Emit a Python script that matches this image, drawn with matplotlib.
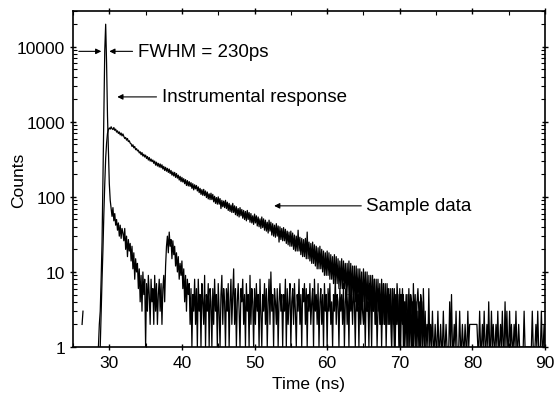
import numpy as np
import matplotlib
matplotlib.use("Agg")
import matplotlib.pyplot as plt
from matplotlib.ticker import FixedLocator, NullFormatter, LogLocator

plt.rcParams['font.family'] = ['Liberation Sans', 'DejaVu Sans']

nan = np.nan
BIN = 0.125  # ns per channel

# Instrument response (counts), one row per ns, 8 channels per row, starting 26.0 ns
irf_start = 26.0
irf_rows = [
    [nan, nan, 2, 3, nan, nan, nan, nan],                # 26
    [nan, nan, nan, nan, nan, nan, nan, nan],            # 27
    [nan, nan, nan, nan, 1, 2, 3, 8],                    # 28
    [25, 180, 1500, 9000, 20000, 6000, 1200, 400],       # 29
    [150, 90, 70, 55, 72, 48, 60, 42],                   # 30
    [50, 36, 45, 30, 42, 28, 38, 33],                    # 31
    [26, 38, 20, 30, 16, 27, 19, 24],                    # 32
    [14, 22, 11, 18, 8, 15, 10, 13],                     # 33
    [6, 11, 4, 9, 3, 10, 5, 8],                          # 34
    [1, 7, 3, 9, 5, 2, 8, 4],                            # 35
    [6, 2, 9, 3, 7, 2, 5, 8],                            # 36
    [3, 7, 2, 6, 9, 4, 12, 22],                          # 37
    [30, 18, 34, 22, 27, 15, 26, 17],                    # 38
    [22, 12, 18, 10, 16, 8, 13, 9],                      # 39
    [14, 6, 11, 4, 9, 3, 8, 5],                          # 40
    [7, 2, 6, 1, 5, 3, 8, 2],                            # 41
    [6, 1, 8, 3, 5, 1, 7, 4],                            # 42
    [2, 9, 1, 5, 3, 7, 1, 6],                            # 43
    [4, 1, 6, 2, 8, 3, 5, 1],                            # 44
    [7, 3, 1, 5, 9, 2, 6, 4],                            # 45
    [1, 6, 3, 7, 1, 4, 8, 2],                            # 46
    [5, 11, 2, 6, 1, 4, 7, 3],                           # 47
    [1, 6, 4, 8, 2, 5, 1, 7],                            # 48
    [3, 5, 1, 9, 2, 6, 4, 1],                            # 49
    [6, 2, 7, 3, 5, 1, 8, 3],                            # 50
    [1, 5, 3, 7, 2, 6, 1, 4],                            # 51
    [8, 2, 10, 3, 5, 1, 6, 4],                           # 52
    [2, 6, 1, 4, 7, 3, 5, 1],                            # 53
    [5, 3, 8, 1, 6, 2, 4, 7],                            # 54
    [1, 4, 6, 2, 7, 3, 1, 5],                            # 55
    [3, 8, 2, 5, 1, 6, 4, 7],                            # 56
    [2, 6, 1, 5, 3, 7, 2, 4],                            # 57
    [6, 1, 8, 3, 5, 2, 7, 1],                            # 58
    [4, 6, 2, 5, 1, 7, 3, 5],                            # 59
    [1, 6, 3, 7, 2, 4, 1, 5],                            # 60
    [3, 8, 2, 5, 4, 1, 6, 3],                            # 61
    [5, 2, 7, 1, 4, 6, 2, 5],                            # 62
    [1, 9, 3, 5, 2, 6, 4, 1],                            # 63
    [6, 3, 5, 1, 7, 2, 5, 3],                            # 64
    [2, 5, 1, 6, 3, 4, 1, 7],                            # 65
    [4, 1, 6, 3, 8, 2, 5, 1],                            # 66
    [3, 6, 2, 5, 1, 4, 7, 2],                            # 67
    [5, 1, 4, 6, 2, 5, 3, 1],                            # 68
    [6, 3, 1, 5, 2, 7, 4, 2],                            # 69
    [1, 5, 3, 6, 1, 4, 2, 5],                            # 70
    [3, 1, 6, 2, 5, 4, 1, 7],                            # 71
    [2, 5, 1, 4, 6, 3, 1, 5],                            # 72
    [4, 1, 6, 2, 1],                                     # 73
]

# Sample decay (counts), one row per ns, 8 channels per row, starting 28.0 ns
sample_start = 28.0
sample_rows = [
    [nan, nan, nan, nan, nan, nan, 1, 3],                # 28
    [8, 20, 60, 150, 330, 520, 700, 790],                # 29
    [830, 800, 860, 810, 790, 840, 770, 800],            # 30
    [730, 760, 700, 735, 670, 710, 650, 690],            # 31
    [640, 600, 620, 570, 600, 545, 560, 520],            # 32
    [510, 470, 495, 450, 470, 425, 440, 410],            # 33
    [420, 385, 400, 365, 390, 350, 370, 340],            # 34
    [360, 325, 345, 310, 335, 300, 320, 295],            # 35
    [310, 280, 300, 265, 290, 258, 280, 250],            # 36
    [275, 245, 268, 235, 255, 225, 248, 220],            # 37
    [240, 212, 235, 205, 225, 195, 215, 190],            # 38
    [212, 182, 205, 178, 195, 168, 188, 160],            # 39
    [182, 158, 175, 150, 170, 142, 165, 140],            # 40
    [160, 138, 155, 130, 150, 124, 145, 128],            # 41
    [142, 120, 136, 114, 130, 108, 125, 105],            # 42
    [126, 104, 120, 98, 116, 94, 110, 92],               # 43
    [112, 92, 108, 86, 102, 82, 98, 80],                 # 44
    [100, 80, 95, 70, 90, 74, 88, 72],                   # 45
    [90, 70, 85, 66, 82, 64, 78, 62],                    # 46
    [82, 62, 76, 58, 74, 56, 70, 54],                    # 47
    [72, 56, 68, 52, 66, 50, 64, 48],                    # 48
    [66, 50, 62, 46, 60, 45, 56, 43],                    # 49
    [59, 45, 56, 41, 54, 40, 51, 38],                    # 50
    [54, 39, 51, 36, 49, 35, 46, 33],                    # 51
    [49, 35, 46, 31, 44, 30, 42, 29],                    # 52
    [44, 30, 41, 25, 40, 27, 38, 26],                    # 53
    [39, 26, 37, 24, 35, 23, 34, 22],                    # 54
    [35, 22, 33, 20, 31, 19, 30, 19],                    # 55
    [36, 19, 29, 17, 28, 16, 27, 16],                    # 56
    [28, 15, 34, 15, 25, 14, 24, 13],                    # 57
    [25, 13, 23, 12, 22, 11, 21, 11],                    # 58
    [22, 11, 20, 10, 19, 9, 18, 9],                      # 59
    [19, 9, 18, 8, 17, 8, 16, 7],                        # 60
    [17, 7, 16, 7, 15, 6, 14, 6],                        # 61
    [15, 6, 14, 6, 13, 5, 13, 5],                        # 62
    [14, 5, 13, 5, 12, 4, 12, 4],                        # 63
    [12, 4, 11, 4, 11, 4, 10, 3],                        # 64
    [11, 4, 10, 3, 10, 3, 9, 3],                         # 65
    [9, 3, 9, 3, 8, 2, 8, 3],                            # 66
    [8, 3, 7, 2, 8, 2, 7, 2],                            # 67
    [7, 2, 7, 2, 6, 2, 6, 1],                            # 68
    [6, 2, 6, 1, 5, 2, 5, 1],                            # 69
    [6, 1, 5, 2, 5, 1, 4, 1],                            # 70
    [5, 1, 5, 1, 4, 1, 4, 1],                            # 71
    [4, 1, 4, 1, 3, 1, 4, 1],                            # 72
    [4, 1, 3, 1, 3, 1, 2, 1],                            # 73
    [6, 1, 2, 1, 3, 1, 1, 2],                            # 74
    [1, 1, 3, 1, 1, 2, 1, 1],                            # 75
    [3, 1, 1, 2, 1, 1, 1, 4],                            # 76
    [1, 5, 1, 1, 2, 1, 3, 1],                            # 77
    [1, 1, 3, 1, 1, 2, 1, 1],                            # 78
    [2, 1, 1, 3, 1, 2, 2, 2],                            # 79
    [2, 2, 2, 2, 2, 2, 1, 1],                            # 80
    [3, 1, 1, 2, 1, 3, 1, 1],                            # 81
    [2, 1, 4, 1, 1, 3, 1, 2],                            # 82
    [1, 1, 2, 1, 3, 1, 1, 2],                            # 83
    [1, 3, 1, 1, 4, 1, 3, 1],                            # 84
    [1, 3, 1, 2, 1, 1, 2, 1],                            # 85
    [3, 1, 1, 2, 1, 1, 1, 1],                            # 86
    [1, 3, 1, 1, 1, 1, 1, 1],                            # 87
    [1, 1, 3, 1, 1, 1, 2, 1],                            # 88
    [3, 1, 1, 1, 3, 1, 1, 2],                            # 89
    [1],                                                 # 90
]

x_ticks = [30, 40, 50, 60, 70, 80, 90]
y_ticks = [1, 10, 100, 1000, 10000]
y_tick_labels = ["1", "10", "100", "1000", "10000"]

irf = np.array([v for row in irf_rows for v in row], dtype=float)
sample = np.array([v for row in sample_rows for v in row], dtype=float)
t_irf = irf_start + BIN * np.arange(len(irf))
t_sample = sample_start + BIN * np.arange(len(sample))

fig = plt.figure(figsize=(5.57, 4.02), dpi=100)
ax = fig.add_axes([73 / 557, 1 - 348 / 402, (545 - 73) / 557, (348 - 12) / 402])

ax.plot(t_irf, irf, color='black', lw=0.9)
ax.plot(t_sample, sample, color='black', lw=0.9)

ax.set_yscale('log', nonpositive='mask')
ax.set_xlim(25, 90)
ax.set_ylim(1, 30000)

ax.xaxis.set_major_locator(FixedLocator(x_ticks))
ax.xaxis.set_minor_locator(FixedLocator([25, 35, 45, 55, 65, 75, 85]))
ax.yaxis.set_major_locator(FixedLocator(y_ticks))
ax.set_yticklabels(y_tick_labels)
ax.yaxis.set_minor_locator(LogLocator(base=10, subs=np.arange(2, 10)))
ax.yaxis.set_minor_formatter(NullFormatter())

ax.tick_params(axis='both', which='major', labelsize=12.5, length=5, width=1.0,
               direction='inout', top=True, right=True, pad=3)
ax.tick_params(axis='both', which='minor', length=3, width=0.8,
               direction='in', top=True, right=True)
for s in ax.spines.values():
    s.set_linewidth(1.2)

ax.set_xlabel("Time (ns)", fontsize=12.5)
ax.set_ylabel("Counts", fontsize=12.5)
ax.xaxis.set_label_coords(0.5, -0.085)
ax.yaxis.set_label_coords(-0.10, 0.5)

ap = dict(arrowstyle='-|>', color='black', lw=0.8, mutation_scale=8, shrinkA=0, shrinkB=0)
ax.annotate("", xy=(28.9, 8700), xytext=(25.8, 8700), arrowprops=ap)
ax.annotate("", xy=(30.0, 8700), xytext=(33.2, 8700), arrowprops=ap)
ax.text(33.9, 8700, "FWHM = 230ps", fontsize=13.5, va='center', ha='left')

ax.annotate("", xy=(31.1, 2150), xytext=(36.5, 2150), arrowprops=ap)
ax.text(37.3, 2150, "Instrumental response", fontsize=13.5, va='center', ha='left')

ax.annotate("", xy=(52.7, 76), xytext=(64.7, 76), arrowprops=ap)
ax.text(65.4, 76, "Sample data", fontsize=13.5, va='center', ha='left')

fig.savefig("out.png", dpi=100)
